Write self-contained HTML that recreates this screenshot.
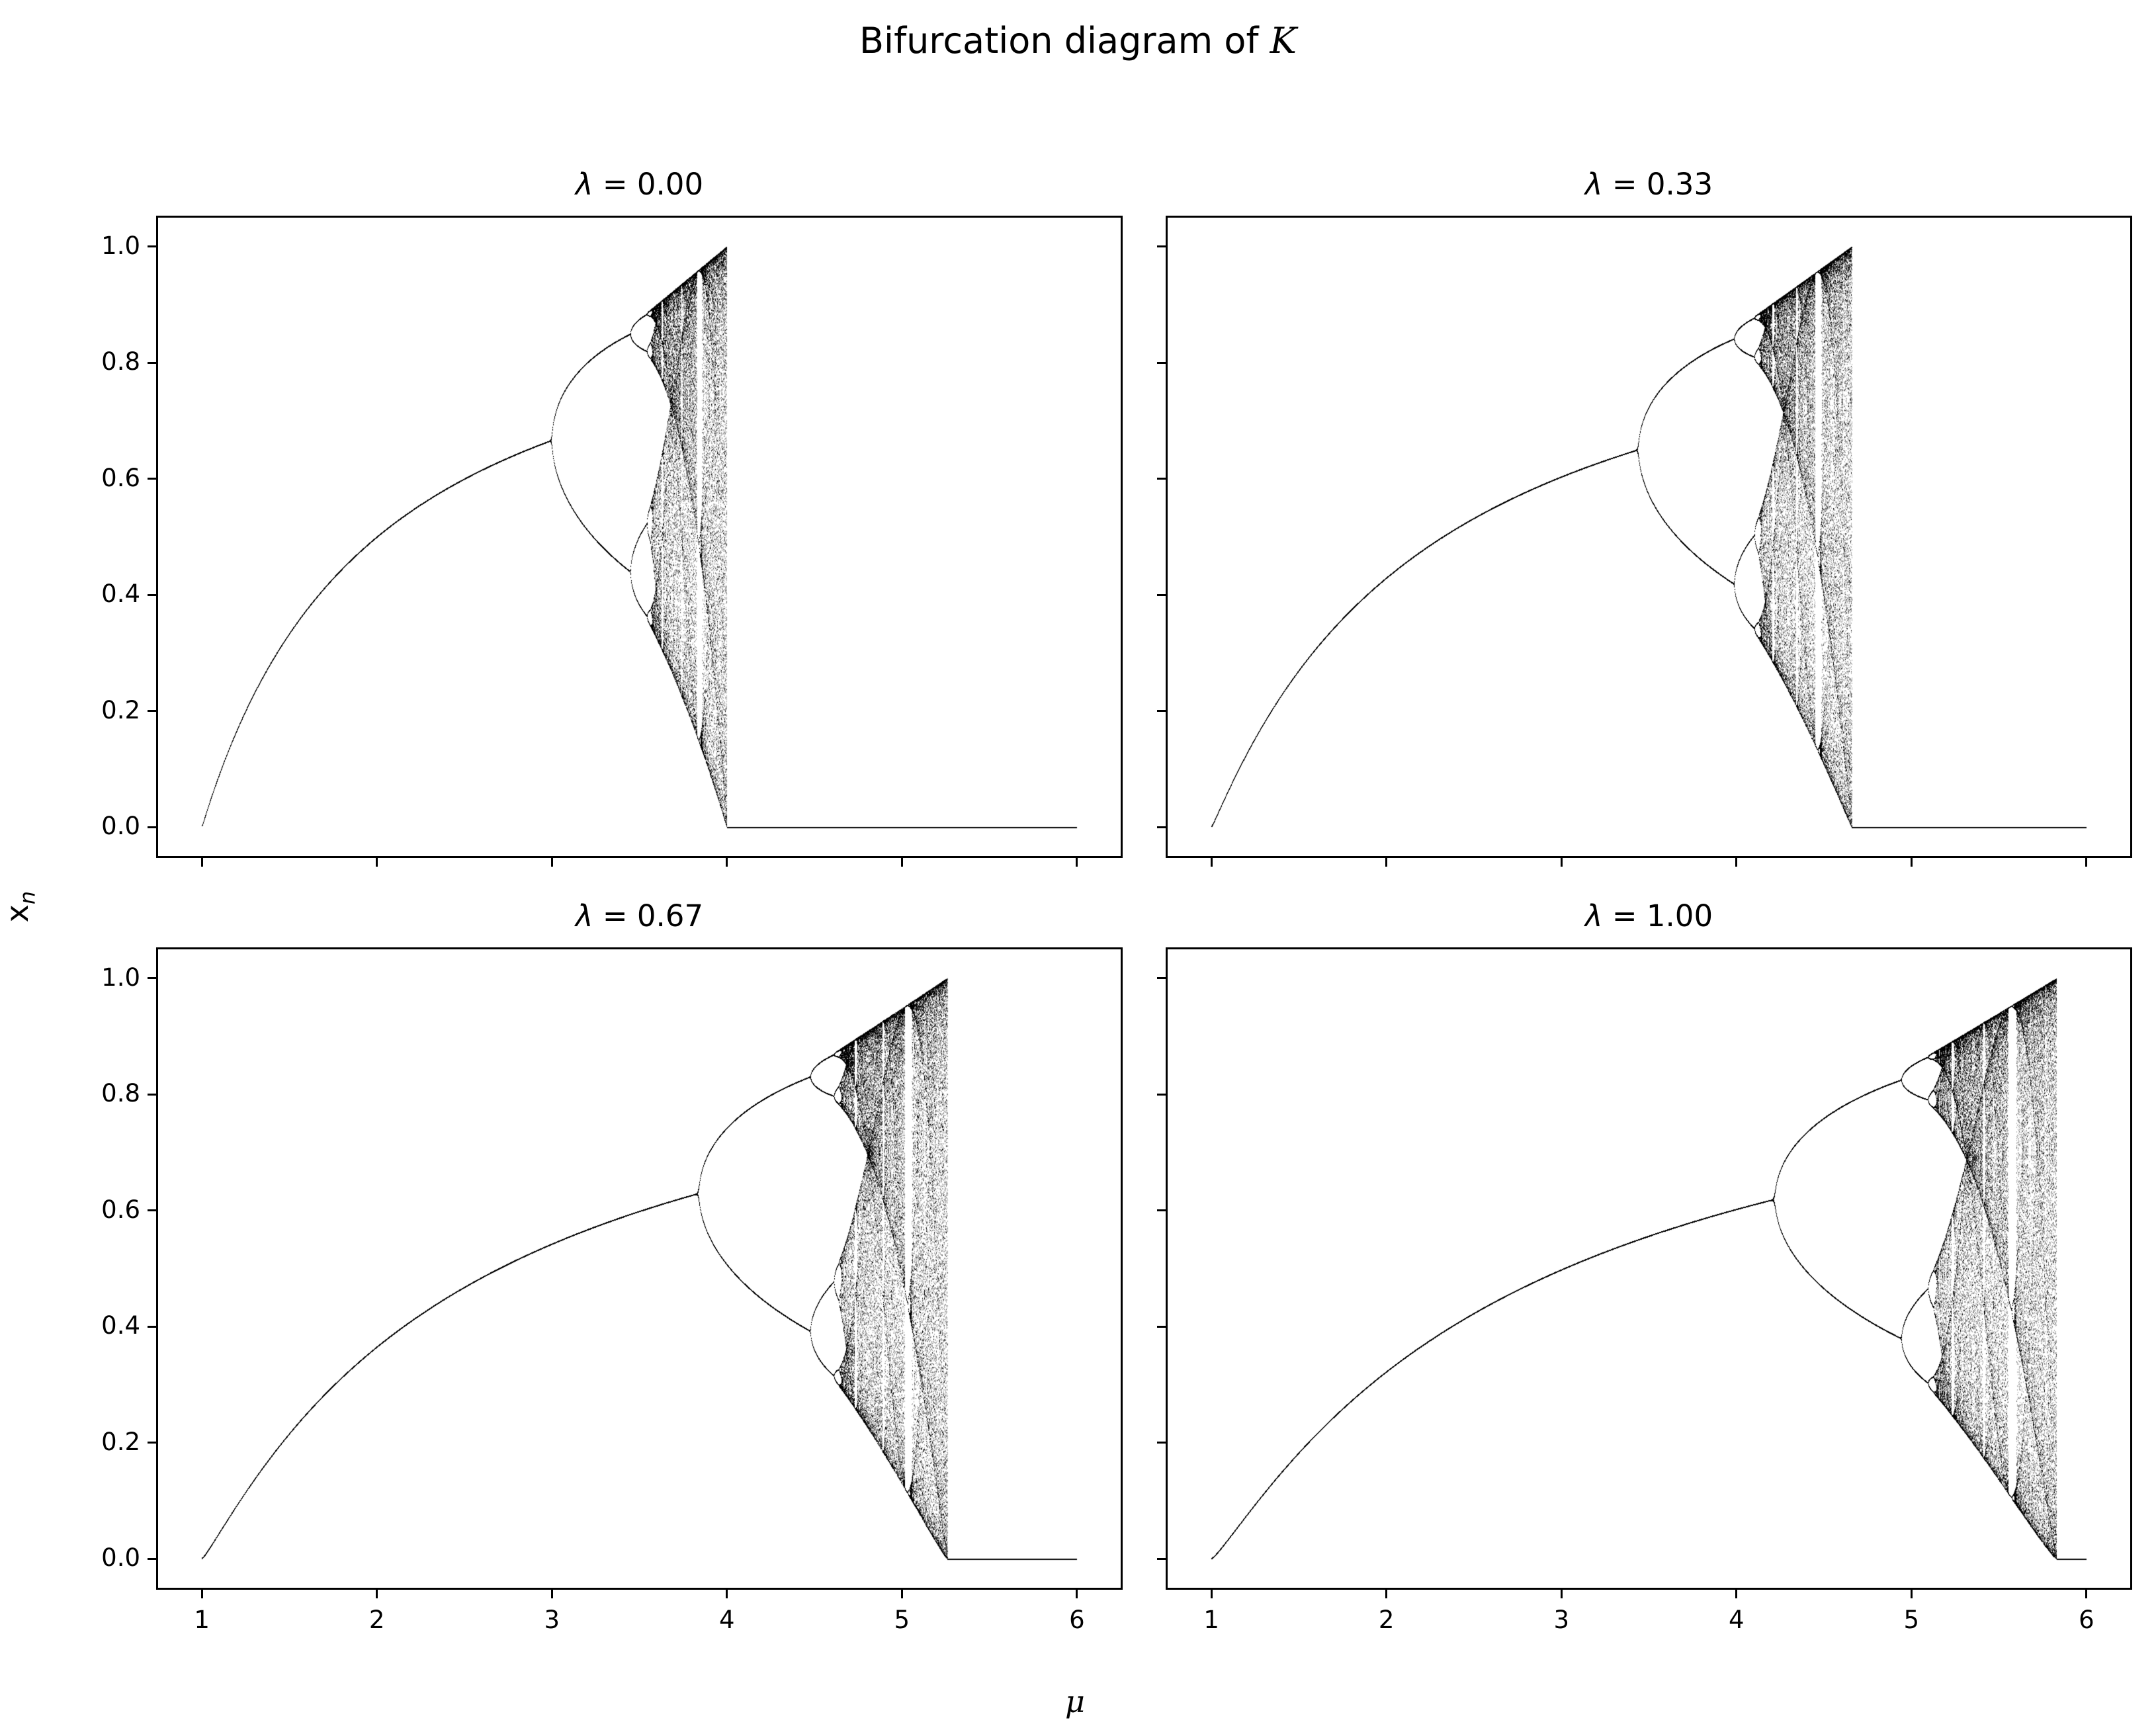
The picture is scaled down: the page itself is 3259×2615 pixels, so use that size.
<!DOCTYPE html>
<html><head><meta charset="utf-8">
<style>
body{margin:0;background:#fff;}
#fig{position:relative;width:3259px;height:2615px;background:#fff;font-family:"DejaVu Sans","Liberation Sans",sans-serif;color:#000;overflow:hidden;}
.ax{position:absolute;border:3px solid #000;box-sizing:border-box;}
.ax canvas{position:absolute;left:-3px;top:-3px;}
.t{position:absolute;white-space:nowrap;}
.tick{position:absolute;background:#000;}
</style></head>
<body>
<div id="fig">
  <div class="t" style="left:0;width:3259px;top:30px;text-align:center;font-size:54px;">Bifurcation diagram of <span style="font-family:'DejaVu Serif',serif;font-style:italic;">K</span></div>
  <div class="t" style="left:1610px;top:2545px;font-size:46px;font-style:italic;font-family:'DejaVu Serif',serif;">μ</div>
  <div class="t" style="left:6px;top:1340px;font-size:46px;transform:rotate(-90deg);transform-origin:center;">x<sub style="font-size:32px;font-style:italic;">n</sub></div>
</div>
<script>
const lambdaValues=[0.00,0.33,0.67,1.00];
const chaosEnd=[4.00,4.66,5.26,5.83];
const fixedPointExponent=[1.00,1.06,1.14,1.18];
const xTicks=[1,2,3,4,5,6];
const yTicks=[0.0,0.2,0.4,0.6,0.8,1.0];
const xLim=[0.75,6.25], yLim=[-0.05,1.05];
const panels=[[236,326],[1762,326],[236,1432],[1762,1432]];
const PW=1461, PH=971;
const fig=document.getElementById('fig');
function sx(v){return (v-xLim[0])/(xLim[1]-xLim[0])*(PW-6)+3;}
function sy(v){return (yLim[1]-v)/(yLim[1]-yLim[0])*(PH-6)+3;}
lambdaValues.forEach((lam,i)=>{
  const [L,T]=panels[i];
  const ax=document.createElement('div');
  ax.className='ax';
  
  
  ax.style.left=L+'px';ax.style.top=T+'px';ax.style.width=PW+'px';ax.style.height=PH+'px';
  fig.appendChild(ax);
  const title=document.createElement('div');
  title.className='t';
  
  
  title.innerHTML='<i>λ</i> = '+lam.toFixed(2);
  title.style.left=L+'px';title.style.width=PW+'px';title.style.textAlign='center';
  title.style.top=(T-74)+'px';title.style.fontSize='45px';
  fig.appendChild(title);
  xTicks.forEach(v=>{
    const tk=document.createElement('div');tk.className='tick';
    
    
    tk.style.left=(L+sx(v)-1.5)+'px';tk.style.top=(T+PH)+'px';tk.style.width='3px';tk.style.height='13px';
    fig.appendChild(tk);
    if(i>=2){
      const lb=document.createElement('div');lb.className='t';
      
      
      lb.textContent=v;lb.style.left=(L+sx(v)-40)+'px';lb.style.width='80px';lb.style.textAlign='center';
      lb.style.top=(T+PH+24)+'px';lb.style.fontSize='37px';
      fig.appendChild(lb);
    }
  });
  yTicks.forEach(v=>{
    const tk=document.createElement('div');tk.className='tick';
    
    
    tk.style.left=(L-13)+'px';tk.style.top=(T+sy(v)-1.5)+'px';tk.style.width='13px';tk.style.height='3px';
    fig.appendChild(tk);
    if(i%2==0){
      const lb=document.createElement('div');lb.className='t';
      
      
      lb.textContent=v.toFixed(1);lb.style.left=(L-140)+'px';lb.style.width='116px';lb.style.textAlign='right';
      lb.style.top=(T+sy(v)-23)+'px';lb.style.fontSize='37px';
      fig.appendChild(lb);
    }
  });
  const cv=document.createElement('canvas');
  
  
  cv.width=PW;cv.height=PH;ax.appendChild(cv);
  const ctx=cv.getContext('2d');
  const cnt=new Float32Array(PW*PH);
  const mEnd=chaosEnd[i], p=fixedPointExponent[i];
  function hit(px,py,w){
    px=Math.floor(px);py=Math.floor(py);
    if(px<3||px>=PW-3)return;
    for(let d=0;d<2;d++){const yy=py+d;if(yy>=3&&yy<PH-3)cnt[yy*PW+px]+=w;}
  }
  const steps=PW*2;
  for(let c=0;c<steps;c++){
    const px=c/2;
    const mu=xLim[0]+(px-3)/(PW-6)*(xLim[1]-xLim[0]);
    if(mu<1||mu>6)continue;
    if(mu>mEnd){hit(px,sy(0),50);continue;}
    const r=1+(mu-1)*3/(mEnd-1);
    let x=0.5;
    for(let k=0;k<400;k++)x=r*x*(1-x);
    for(let k=0;k<160;k++){x=r*x*(1-x);hit(px,sy(Math.pow(Math.max(x,0),p)),1);}
  }
  const img=ctx.createImageData(PW,PH);
  for(let j=0;j<PW*PH;j++){
    const a=Math.min(1,cnt[j]*0.32);
    img.data[j*4+3]=Math.round(a*255);
  }
  ctx.putImageData(img,0,0);
});
</script>
</body></html>
